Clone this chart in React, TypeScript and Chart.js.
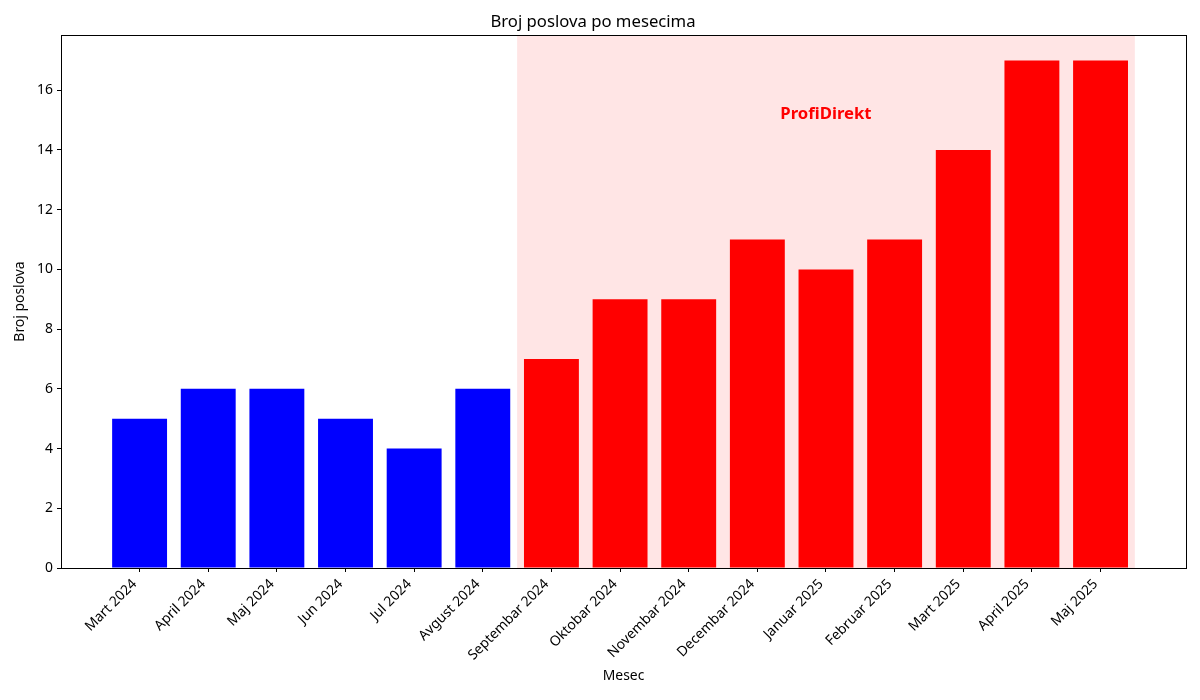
import React, { useEffect, useRef } from "react";
import { Chart, registerables } from "chart.js";

Chart.register(...registerables);

const categories = [
  "Mart 2024", "April 2024", "Maj 2024", "Jun 2024", "Jul 2024", "Avgust 2024",
  "Septembar 2024", "Oktobar 2024", "Novembar 2024", "Decembar 2024",
  "Januar 2025", "Februar 2025", "Mart 2025", "April 2025", "Maj 2025",
];
const values = [5, 6, 6, 5, 4, 6, 7, 9, 9, 11, 10, 11, 14, 17, 17];
const barColors = [
  "#0000ff", "#0000ff", "#0000ff", "#0000ff", "#0000ff", "#0000ff",
  "#ff0000", "#ff0000", "#ff0000", "#ff0000", "#ff0000", "#ff0000", "#ff0000", "#ff0000", "#ff0000",
];
const spanRange = [5.5, 14.5];
const spanLabel = "ProfiDirekt";
const spanLabelPos = { x: 10, y: 15.2 };
const yTicks = [0, 2, 4, 6, 8, 10, 12, 14, 16];

const FONT = "'Noto Sans', 'DejaVu Sans', sans-serif";
const TICK_SIZE = 13.9;

export default function App() {
  const ref = useRef<HTMLCanvasElement | null>(null);

  useEffect(() => {
    document.body.style.margin = "0";
    const canvas = ref.current!;
    const lo = -0.4;
    const hi = spanRange[1];
    const xMin = lo - 0.05 * (hi - lo);
    const xMax = hi + 0.05 * (hi - lo);

    const spanPlugin = {
      id: "spanPlugin",
      beforeDatasetsDraw(chart: any) {
        const { ctx, chartArea, scales } = chart;
        const x0 = scales.x.getPixelForValue(spanRange[0]);
        const x1 = scales.x.getPixelForValue(spanRange[1]);
        ctx.save();
        ctx.fillStyle = "rgba(255,0,0,0.1)";
        ctx.fillRect(x0, chartArea.top, x1 - x0, chartArea.bottom - chartArea.top);
        ctx.restore();
      },
      afterDatasetsDraw(chart: any) {
        const { ctx, chartArea, scales } = chart;
        ctx.save();
        ctx.fillStyle = "#ff0000";
        ctx.font = `bold 16.7px ${FONT}`;
        ctx.textAlign = "center";
        ctx.textBaseline = "middle";
        ctx.fillText(spanLabel, scales.x.getPixelForValue(spanLabelPos.x), scales.y.getPixelForValue(spanLabelPos.y));
        ctx.strokeStyle = "#000";
        ctx.lineWidth = 1;
        ctx.strokeRect(
          Math.round(chartArea.left) + 0.5,
          Math.round(chartArea.top) + 0.5,
          Math.round(chartArea.right - chartArea.left),
          Math.round(chartArea.bottom - chartArea.top)
        );
        ctx.restore();
      },
      afterDraw(chart: any) {
        const { ctx, chartArea, scales } = chart;
        ctx.save();
        ctx.fillStyle = "#000";
        ctx.font = `${TICK_SIZE}px ${FONT}`;
        ctx.textAlign = "right";
        ctx.textBaseline = "bottom";
        const c = Math.SQRT1_2;
        const h = TICK_SIZE * 1.2;
        const y0 = chartArea.bottom + 7;
        categories.forEach((label, i) => {
          const x = scales.x.getPixelForValue(i);
          ctx.save();
          ctx.translate(x, y0 + h * c);
          ctx.rotate(-Math.PI / 4);
          ctx.fillText(label, 0, 0);
          ctx.restore();
        });
        ctx.restore();
      },
    };

    const chart = new Chart(canvas, {
      type: "bar",
      data: {
        datasets: [
          {
            data: values.map((v, i) => ({ x: i, y: v })),
            backgroundColor: barColors,
            borderColor: "rgba(0,0,0,0)",
            barPercentage: 0.8,
            categoryPercentage: 1,
            borderWidth: 0,
            inflateAmount: 0,
          },
        ],
      },
      options: {
        responsive: false,
        animation: false,
        devicePixelRatio: 1,
        layout: { padding: { left: 0, right: 14, top: 0, bottom: 0 } },
        plugins: {
          legend: { display: false },
          tooltip: { enabled: false },
          title: {
            display: true,
            text: "Broj poslova po mesecima",
            color: "#000",
            font: { family: FONT, size: 16.7, weight: "normal" },
            padding: { top: 12, bottom: 3 },
          },
        },
        scales: {
          x: {
            type: "linear",
            min: xMin,
            max: xMax,
            offset: false,
            afterBuildTicks(scale: any) {
              scale.ticks = categories.map((_, i) => ({ value: i }));
            },
            afterFit(scale: any) {
              scale.height = 132;
            },
            ticks: {
              display: false,
              autoSkip: false,
            },
            grid: { offset: false, drawOnChartArea: false, drawTicks: true, tickLength: 4, color: "#000" },
            border: { display: true, color: "#000" },
            title: {
              display: true,
              text: "Mesec",
              color: "#000",
              font: { family: FONT, size: TICK_SIZE },
              padding: { top: 0, bottom: 16 },
            },
          },
          y: {
            min: 0,
            max: 17.85,
            afterBuildTicks(scale: any) {
              scale.ticks = yTicks.map((v) => ({ value: v }));
            },
            afterFit(scale: any) {
              scale.width = 61;
            },
            ticks: {
              color: "#000",
              padding: 4,
              font: { family: FONT, size: TICK_SIZE },
            },
            grid: { drawOnChartArea: false, drawTicks: true, tickLength: 4, color: "#000" },
            border: { display: true, color: "#000" },
            title: {
              display: true,
              text: "Broj poslova",
              color: "#000",
              font: { family: FONT, size: TICK_SIZE },
              padding: { top: 12, bottom: 0 },
            },
          },
        },
      },
      plugins: [spanPlugin],
    } as any);

    return () => chart.destroy();
  }, []);

  return (
    <div style={{ width: 1200, height: 700, background: "#fff" }}>
      <canvas ref={ref} width={1200} height={700} style={{ display: "block" }} />
    </div>
  );
}
